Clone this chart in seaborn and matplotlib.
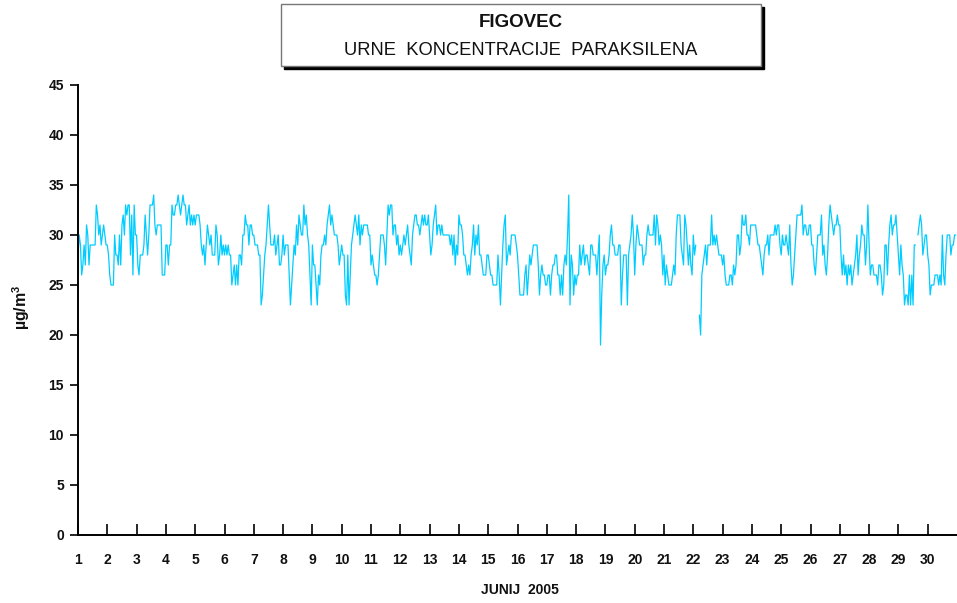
import numpy as np
import pandas as pd
import matplotlib
matplotlib.use("Agg")
import matplotlib.pyplot as plt
from matplotlib.patches import Rectangle
import seaborn as sns

nan = np.nan

# hourly concentrations, June 2005 (µg/m3)
days_1_4 = [28,30,29,26,27,29,27,31,30,27,29,29,29,29,29,33,32,30,31,29,30,31,30,29,29,28,26,25,25,25,
            30,28,28,27,30,27,31,32,30,33,32,33,33,28,32,26,33,30,30,27,26,28,28,28,29,32,30,28,30,33,
            33,33,34,31,30,31,31,31,31,26,26,26,29,29,27,29,29,33,32,32,33,33,34,33,32,33]
days_4_8 = [34,33,33,31,32,33,31,32,31,32,31,32,32,32,31,29,28,29,27,29,31,30,29,30,28,28,28,31,30,27,
            28,30,28,29,28,29,28,29,28,28,25,26,27,25,27,25,28,28,27,30,30,32,31,31,29,31,31,30,30,29,
            29,29,28,28,23,24,26,28,29,31,33,31,29,29,29,30,28,29,30,27,27,28,30,28,29,29]
days_8_12 = [29,26,23,25,27,29,28,31,29,32,31,30,30,33,31,32,30,29,26,23,29,27,27,25,23,26,25,28,29,29,
             30,29,31,32,33,31,32,31,30,30,30,29,27,28,29,28,28,24,23,28,23,26,29,30,31,32,31,30,32,29,
             31,30,31,31,31,31,30,30,27,28,27,26,26,25,26,28,30,30,30,29,27,30,33,32,33,33,30,31,31,29,
             30,28]
days_12_15 = [29,28,29,30,29,30,31,29,28,27,30,31,32,32,31,31,30,31,32,31,32,31,31,32,30,28,29,31,32,33,
              30,31,31,30,31,30,30,30,30,30,30,29,30,28,30,27,29,28,32,31,31,30,28,28,27,26,27,26,28,29,
              31,28,30,29,31,28,28,27,26,26,26,28,28,27,26,26,25,25,25,25,28,26,23,26,29,31,32,27,28,29,
              28,30]
days_15_19 = [30,30,30,29,28,26,24,24,24,24,26,27,24,26,28,27,28,29,29,29,29,27,24,26,27,26,26,25,25,26,
              26,24,26,27,27,28,28,26,26,24,26,24,27,28,27,30,34,23,28,27,24,26,25,26,26,29,27,28,29,27,
              28,28,27,26,29,29,28,28,28,26,28,30,19,24,27,28,26,27,27,28,30,31,29,29,28,28,28,29,29,23,
              26,28]
days_19_23 = [28,28,23,28,29,30,32,30,26,29,31,30,29,29,29,27,28,28,30,31,30,30,30,30,32,29,32,31,29,30,
              29,26,28,25,27,26,25,25,25,26,27,26,30,32,32,32,29,28,27,32,31,29,27,29,27,26,30,28,29,nan,
              nan,22,20,26,27,28,29,27,29,29,29,32,29,30,29,30,29,28,28,28,27,28,26,25,25,25,26,26,25,27,
              26,27]
days_23_27 = [30,30,28,29,32,31,31,32,30,30,29,31,31,31,31,31,30,29,29,28,27,26,28,29,29,30,28,30,30,30,
              30,31,30,31,31,29,28,30,29,29,30,29,28,31,27,25,26,28,30,32,32,32,32,33,30,31,31,30,30,31,
              31,29,29,27,26,28,30,30,30,32,28,29,27,26,28,31,33,32,31,30,31,31,32,31,31,28,26,28,26,27,
              25]
days_27_30 = [27,26,27,25,26,27,28,30,26,28,29,31,30,30,27,29,33,29,26,27,27,26,26,26,25,27,27,26,24,25,
              29,29,26,29,31,32,30,31,31,32,30,28,26,29,27,26,23,24,24,23,26,23,26,23,29,29,nan,30,31,32,
              31,28,29,30,30,28,27,24,25,25,25,26,26,26,25,26,25,30,26,25,28,30,30,30,28,29,29,30,30]

day_labels = [str(d) for d in range(1, 31)]
y_ticks = list(range(0, 46, 5))

conc = (days_1_4 + days_4_8 + days_8_12 + days_12_15 + days_15_19
        + days_19_23 + days_23_27 + days_27_30)
df = pd.DataFrame({"hour": np.arange(len(conc)), "conc": conc})
df["seg"] = df["conc"].isna().cumsum()
df = df.dropna()

sns.set_theme(style="white")
plt.rcParams["font.family"] = ["Liberation Sans", "DejaVu Sans"]
plt.rcParams["mathtext.fontset"] = "custom"
plt.rcParams["mathtext.bf"] = "Liberation Sans:bold"
plt.rcParams["mathtext.rm"] = "Liberation Sans"

fig = plt.figure(figsize=(9.57, 6.03), dpi=100)
ax = fig.add_axes([78/957, 68/603, 879/957, 450/603])

sns.lineplot(data=df, x="hour", y="conc", units="seg", estimator=None,
             color="#00CCFF", linewidth=0.9, ax=ax, legend=False)

ax.set_xlim(0, 720)
ax.set_ylim(0, 45)
ax.set_yticks(y_ticks)
ax.set_xticks(np.arange(len(day_labels)) * 24)
ax.set_xticklabels(day_labels)
ax.set_xlabel("")
ax.set_ylabel("")
for s in ["top", "right"]:
    ax.spines[s].set_visible(False)
for s in ["left", "bottom"]:
    ax.spines[s].set_color("black")
    ax.spines[s].set_linewidth(1.4)
ax.tick_params(axis="x", direction="in", length=8, width=1.2, color="black",
               pad=13, labelsize=10, bottom=True)
ax.tick_params(axis="y", direction="out", length=6, width=1.2, color="black",
               pad=4, labelsize=10, left=True)
for lab in ax.get_xticklabels() + ax.get_yticklabels():
    lab.set_fontweight("bold")
    lab.set_color("#111111")

fig.text(0.022, 0.49, r"µg/m$^{\mathbf{3}}$", rotation=90, ha="center", va="center",
         fontsize=11.5, fontweight="bold", color="#111111")
fig.text(0.543, 0.022, "JUNIJ  2005", ha="center", va="center",
         fontsize=10, fontweight="bold", color="#111111")

# title box with drop shadow
bx, by, bw, bh = 281/957, 537/603, 480/957, 62/603
fig.patches.append(Rectangle((bx + 3/957, by - 3/603), bw, bh, transform=fig.transFigure,
                             facecolor="black", edgecolor="black", zorder=1))
fig.patches.append(Rectangle((bx, by), bw, bh, transform=fig.transFigure,
                             facecolor="white", edgecolor="#777777", linewidth=1, zorder=2))
fig.text(0.5444, 0.9635, "FIGOVEC", ha="center", va="center", fontsize=13.5,
         fontweight="bold", color="#111111", zorder=3)
fig.text(0.5444, 0.917, "URNE  KONCENTRACIJE  PARAKSILENA", ha="center", va="center",
         fontsize=13.2, color="#111111", zorder=3)

fig.savefig("out.png", dpi=100, facecolor="white")
